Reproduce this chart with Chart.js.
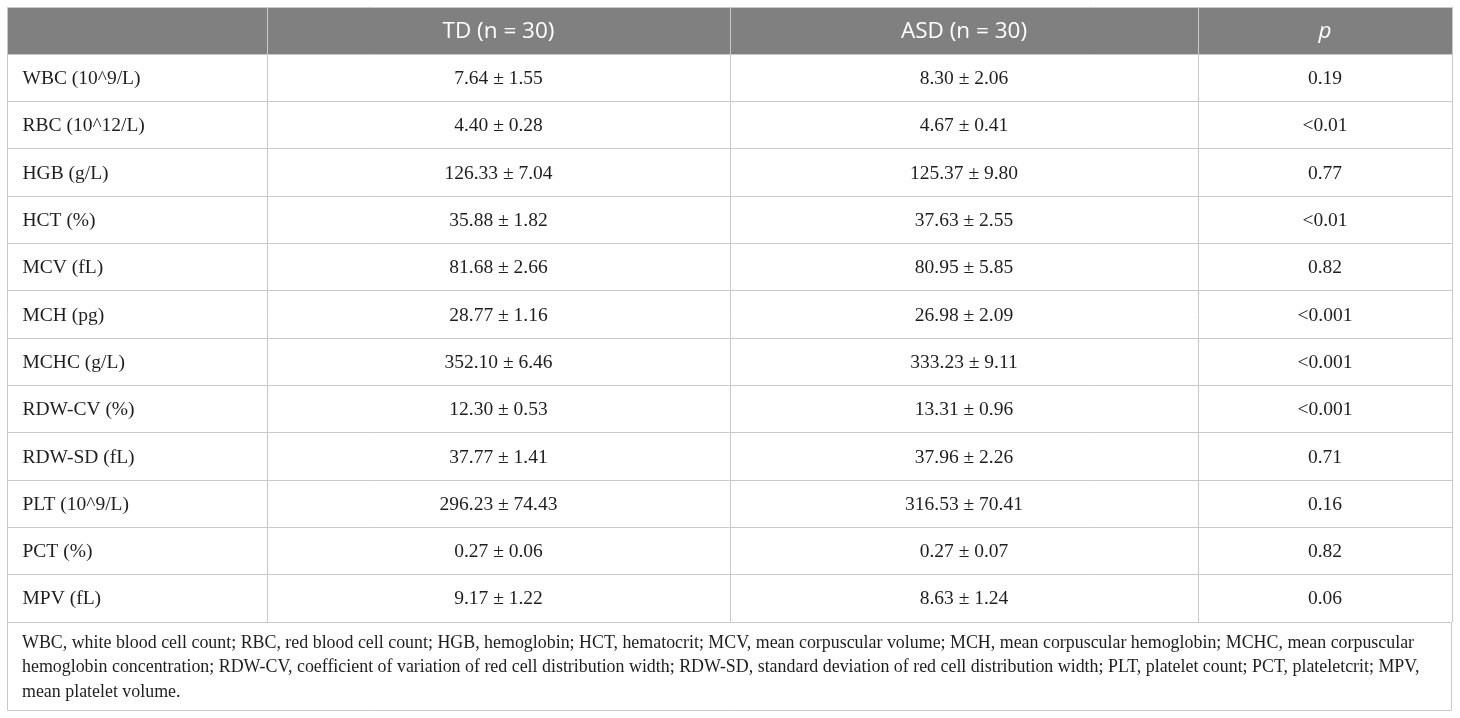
<!DOCTYPE html>
<html>
<head>
<meta charset="utf-8">
<script src="https://cdn.jsdelivr.net/npm/chart.js@4.4.0/dist/chart.umd.min.js"></script>
<style>
html,body{margin:0;padding:0;background:#ffffff;}
#wrap{width:1460px;height:718px;}
</style>
</head>
<body>
<div id="wrap"><canvas id="c" width="1460" height="718"></canvas></div>
<script>
// ---- data ----
const headers = ['', 'TD (n = 30)', 'ASD (n = 30)', 'p'];
const rowLabels = ['WBC (10^9/L)', 'RBC (10^12/L)', 'HGB (g/L)', 'HCT (%)', 'MCV (fL)', 'MCH (pg)',
  'MCHC (g/L)', 'RDW-CV (%)', 'RDW-SD (fL)', 'PLT (10^9/L)', 'PCT (%)', 'MPV (fL)'];
const tdValues = ['7.64 ± 1.55', '4.40 ± 0.28', '126.33 ± 7.04', '35.88 ± 1.82', '81.68 ± 2.66',
  '28.77 ± 1.16', '352.10 ± 6.46', '12.30 ± 0.53', '37.77 ± 1.41', '296.23 ± 74.43', '0.27 ± 0.06', '9.17 ± 1.22'];
const asdValues = ['8.30 ± 2.06', '4.67 ± 0.41', '125.37 ± 9.80', '37.63 ± 2.55', '80.95 ± 5.85',
  '26.98 ± 2.09', '333.23 ± 9.11', '13.31 ± 0.96', '37.96 ± 2.26', '316.53 ± 70.41', '0.27 ± 0.07', '8.63 ± 1.24'];
const pValues = ['0.19', '<0.01', '0.77', '<0.01', '0.82', '<0.001', '<0.001', '<0.001', '0.71', '0.16', '0.82', '0.06'];
const footnoteLines = [
  'WBC, white blood cell count; RBC, red blood cell count; HGB, hemoglobin; HCT, hematocrit; MCV, mean corpuscular volume; MCH, mean corpuscular hemoglobin; MCHC, mean corpuscular',
  'hemoglobin concentration; RDW-CV, coefficient of variation of red cell distribution width; RDW-SD, standard deviation of red cell distribution width; PLT, platelet count; PCT, plateletcrit; MPV,',
  'mean platelet volume.'
];

// ---- layout (relative column widths) ----
const colWeights = [260, 463, 468, 254];
const totalWidth = colWeights.reduce((a, b) => a + b, 0);
const rowKeys = ['header'].concat(rowLabels);
const columns = [rowLabels, tdValues, asdValues, pValues];
const lineColor = '#c9c9c9';

const datasets = colWeights.map((w, ci) => ({
  label: 'col' + ci,
  data: rowKeys.map(() => w),
  backgroundColor: rowKeys.map((r, ri) => ri === 0 ? '#808080' : '#ffffff'),
  borderWidth: 0,
  barPercentage: 1,
  categoryPercentage: 1,
  stack: 'table'
}));

const tablePlugin = {
  id: 'tableText',
  afterDraw(chart) {
    const ctx = chart.ctx;
    ctx.save();
    ctx.textBaseline = 'middle';
    chart.data.datasets.forEach((ds, ci) => {
      const meta = chart.getDatasetMeta(ci);
      meta.data.forEach((bar, ri) => {
        const p = bar.getProps(['x', 'base', 'y'], true);
        const left = Math.min(p.x, p.base), right = Math.max(p.x, p.base);
        let text;
        if (ri === 0) {
          text = headers[ci];
          ctx.font = (ci === 3 ? 'italic ' : '') + '22.5px "Open Sans"';
          ctx.fillStyle = '#ffffff';
        } else {
          text = columns[ci][ri - 1];
          ctx.font = '19.5px "Liberation Serif"';
          ctx.fillStyle = '#1e1e1e';
        }
        if (ci === 0) {
          ctx.textAlign = 'left';
          ctx.fillText(text, left + 15, p.y + 1);
        } else {
          ctx.textAlign = 'center';
          ctx.fillText(text, (left + right) / 2, p.y + 1);
        }
      });
    });
    // footnote cell
    const a = chart.chartArea;
    const bottom = chart.height - 8;
    ctx.strokeStyle = lineColor;
    ctx.lineWidth = 1;
    ctx.beginPath();
    ctx.moveTo(Math.round(a.left) + 0.5, a.bottom);
    ctx.lineTo(Math.round(a.left) + 0.5, bottom + 0.5);
    ctx.lineTo(Math.round(a.right) - 0.5, bottom + 0.5);
    ctx.lineTo(Math.round(a.right) - 0.5, a.bottom);
    ctx.stroke();
    ctx.font = '17.9px "Liberation Serif"';
    ctx.fillStyle = '#1e1e1e';
    ctx.textAlign = 'left';
    footnoteLines.forEach((ln, i) => {
      ctx.fillText(ln, a.left + 15, a.bottom + 21 + i * 24.5);
    });
    ctx.restore();
  }
};

new Chart(document.getElementById('c'), {
  type: 'bar',
  data: { labels: rowKeys, datasets: datasets },
  options: {
    indexAxis: 'y',
    responsive: false,
    animation: false,
    devicePixelRatio: 1,
    layout: { padding: { left: 7, top: 7, right: 8, bottom: 96 } },
    plugins: { legend: { display: false }, tooltip: { enabled: false } },
    scales: {
      x: {
        type: 'linear', stacked: true, min: 0, max: totalWidth, position: 'top', z: 1,
        afterBuildTicks: (s) => {
          let acc = 0;
          s.ticks = [{ value: 0 }].concat(colWeights.map(w => ({ value: (acc += w) })));
        },
        ticks: { display: false, padding: 0 },
        grid: { color: lineColor, drawTicks: false, lineWidth: 1, z: 1 },
        border: { display: false }
      },
      y: {
        type: 'category', stacked: true, offset: true, z: 1,
        ticks: { display: false, padding: 0 },
        grid: { offset: true, color: lineColor, drawTicks: false, lineWidth: 1, z: 1 },
        border: { display: false }
      }
    }
  },
  plugins: [tablePlugin]
});
</script>
</body>
</html>
